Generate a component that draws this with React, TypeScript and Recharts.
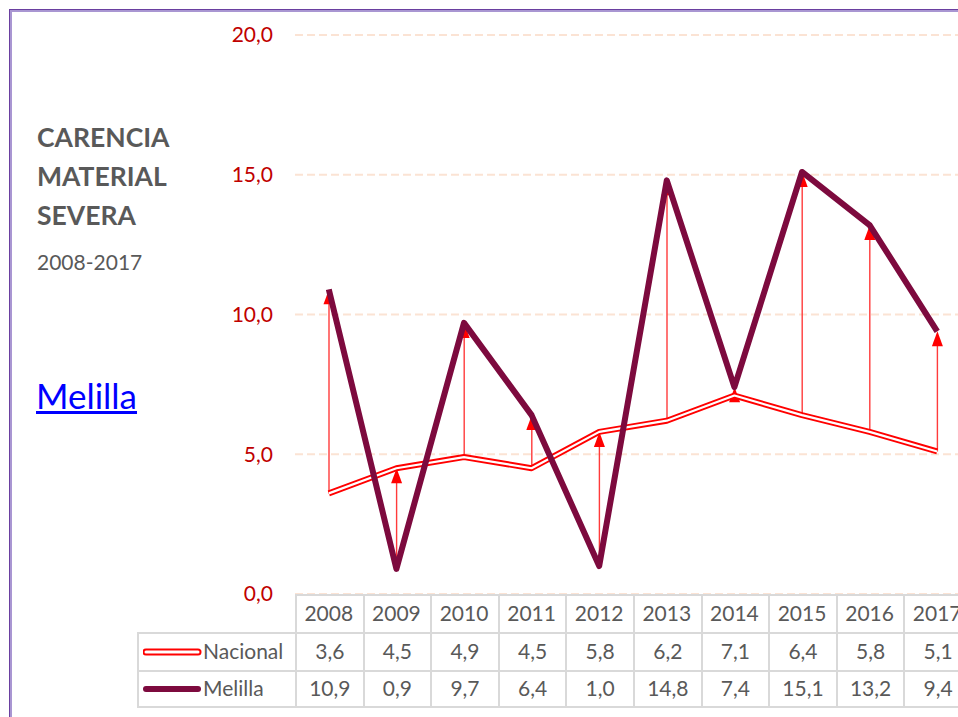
import React from "react";
import {
  ComposedChart, Line, Bar, XAxis, YAxis, CartesianGrid,
} from "recharts";

const YEARS = ["2008", "2009", "2010", "2011", "2012", "2013", "2014", "2015", "2016", "2017"];
const NACIONAL = [3.6, 4.5, 4.9, 4.5, 5.8, 6.2, 7.1, 6.4, 5.8, 5.1];
const MELILLA = [10.9, 0.9, 9.7, 6.4, 1.0, 14.8, 7.4, 15.1, 13.2, 9.4];
const Y_TICKS = [0, 5, 10, 15, 20];

const FONT = "Lato, 'Open Sans', sans-serif";
const GRAY = "#595959";
const RED = "#FF0000";
const WINE = "#7D0A3E";

const PLOT_LEFT = 295;
const COL_W = 67.6;
const PLOT_TOP = 35;
const PLOT_BOTTOM = 594;

const rows = YEARS.map((year, i) => ({
  year,
  nacional: NACIONAL[i],
  melilla: MELILLA[i],
  range: [Math.min(NACIONAL[i], MELILLA[i]), Math.max(NACIONAL[i], MELILLA[i])],
}));

const fmt = (v: number) => v.toFixed(1).replace(".", ",");

// red line from the lower to the higher value, arrow head at the top
const Arrow = (props: any) => {
  const { x, y, width, height } = props;
  if (x == null || y == null) return null;
  const cx = x + width / 2;
  return (
    <g>
      <line x1={cx} x2={cx} y1={y + 4} y2={y + height} stroke="#FF3B3B" strokeWidth={1.4} />
      <path d={`M${cx},${y} L${cx - 5.5},${y + 15} L${cx + 5.5},${y + 15} Z`} fill={RED} />
    </g>
  );
};

const cellBorder = "2px solid #D9D9D9";

function DataTable() {
  const cells: React.ReactNode[] = [];
  const rowTops = [594, 632, 670];
  const rowH = 38;
  // header row (years are drawn by the XAxis)
  YEARS.forEach((_, i) => {
    cells.push(
      <div key={"h" + i} style={{
        position: "absolute", left: PLOT_LEFT + i * COL_W, top: rowTops[0],
        width: COL_W, height: rowH, borderLeft: cellBorder, borderTop: cellBorder,
        boxSizing: "border-box",
      }} />
    );
  });
  const series = [
    { name: "Nacional", values: NACIONAL, kind: "double" },
    { name: "Melilla", values: MELILLA, kind: "solid" },
  ];
  series.forEach((s, r) => {
    const top = rowTops[r + 1];
    cells.push(
      <div key={"l" + r} style={{
        position: "absolute", left: 137, top, width: PLOT_LEFT - 137, height: rowH,
        borderLeft: cellBorder, borderTop: cellBorder, borderBottom: r === 1 ? cellBorder : undefined,
        boxSizing: "border-box", display: "flex", alignItems: "center", paddingBottom: 4,
      }}>
        <svg width={60} height={12} style={{ marginLeft: 4, marginTop: 4 }}>
          {s.kind === "double" ? (
            <g>
              <line x1={3} x2={55} y1={6} y2={6} stroke={RED} strokeWidth={7} strokeLinecap="round" />
              <line x1={3} x2={55} y1={6} y2={6} stroke="#fff" strokeWidth={3} strokeLinecap="round" />
            </g>
          ) : (
            <line x1={3} x2={55} y1={6} y2={6} stroke={WINE} strokeWidth={6} strokeLinecap="round" />
          )}
        </svg>
        <span style={{ fontSize: 21, color: GRAY, fontFamily: FONT }}>{s.name}</span>
      </div>
    );
    s.values.forEach((v, i) => {
      cells.push(
        <div key={"c" + r + "_" + i} style={{
          position: "absolute", left: PLOT_LEFT + i * COL_W, top, width: COL_W, height: rowH,
          borderLeft: cellBorder, borderTop: cellBorder, borderBottom: r === 1 ? cellBorder : undefined,
          boxSizing: "border-box", display: "flex", alignItems: "center", justifyContent: "center",
          paddingBottom: 4, fontSize: 21, color: GRAY, fontFamily: FONT,
        }}>{fmt(v)}</div>
      );
    });
  });
  return <>{cells}</>;
}

export default function App() {
  return (
    <div style={{
      position: "fixed", left: 0, top: 0, width: 958, height: 717, overflow: "hidden",
      background: "#fff", fontFamily: FONT,
    }}>
      {/* frame */}
      <div style={{
        position: "absolute", left: 9, top: 9, width: 1100, height: 1100,
        border: "1.5px solid #6A3FA0", boxSizing: "border-box",
      }}>
        <div style={{ width: "100%", height: "100%", borderTop: "2px solid #A996D2", borderLeft: "2px solid #A996D2", boxSizing: "border-box" }} />
      </div>

      <div style={{
        position: "absolute", left: 37, top: 118, fontSize: 26.5, lineHeight: "39px",
        fontWeight: 700, color: GRAY,
      }}>
        CARENCIA<br />MATERIAL<br />SEVERA
      </div>
      <div style={{ position: "absolute", left: 37, top: 251, fontSize: 21, lineHeight: 1, color: GRAY }}>
        2008-2017
      </div>
      <div style={{
        position: "absolute", left: 36, top: 378, fontSize: 35, lineHeight: 1, color: "#0000FF",
        textDecoration: "underline",
      }}>
        Melilla
      </div>

      <div style={{ position: "absolute", left: 0, top: 0 }}>
        <ComposedChart
          width={PLOT_LEFT + COL_W * YEARS.length}
          height={PLOT_BOTTOM + 38}
          data={rows}
          margin={{ top: PLOT_TOP, right: 0, bottom: 0, left: PLOT_LEFT - 60 }}
        >
          <CartesianGrid vertical={false} stroke="#FBE3D4" strokeWidth={2} strokeDasharray="8 4" />
          <YAxis
            width={60}
            domain={[0, 20]}
            ticks={Y_TICKS}
            tickFormatter={fmt}
            axisLine={false}
            tickLine={false}
            tickSize={6}
            tickMargin={16}
            tick={{ fill: "#C00000", fontSize: 21, fontFamily: FONT }}
          />
          <XAxis
            dataKey="year"
            height={38}
            axisLine={false}
            tickLine={false}
            tickSize={6}
            tickMargin={6}
            interval={0}
            tick={{ fill: GRAY, fontSize: 21, fontFamily: FONT }}
          />
          <Line dataKey="nacional" stroke={RED} strokeWidth={6} dot={false} isAnimationActive={false} strokeLinejoin="round" />
          <Line dataKey="nacional" stroke="#fff" strokeWidth={2.2} dot={false} isAnimationActive={false} strokeLinejoin="round" />
          <Line dataKey="melilla" stroke={WINE} strokeWidth={6} dot={false} isAnimationActive={false} strokeLinejoin="round" />
          <Bar dataKey="range" barSize={10} shape={<Arrow />} isAnimationActive={false} />
        </ComposedChart>
      </div>

      <DataTable />
    </div>
  );
}
